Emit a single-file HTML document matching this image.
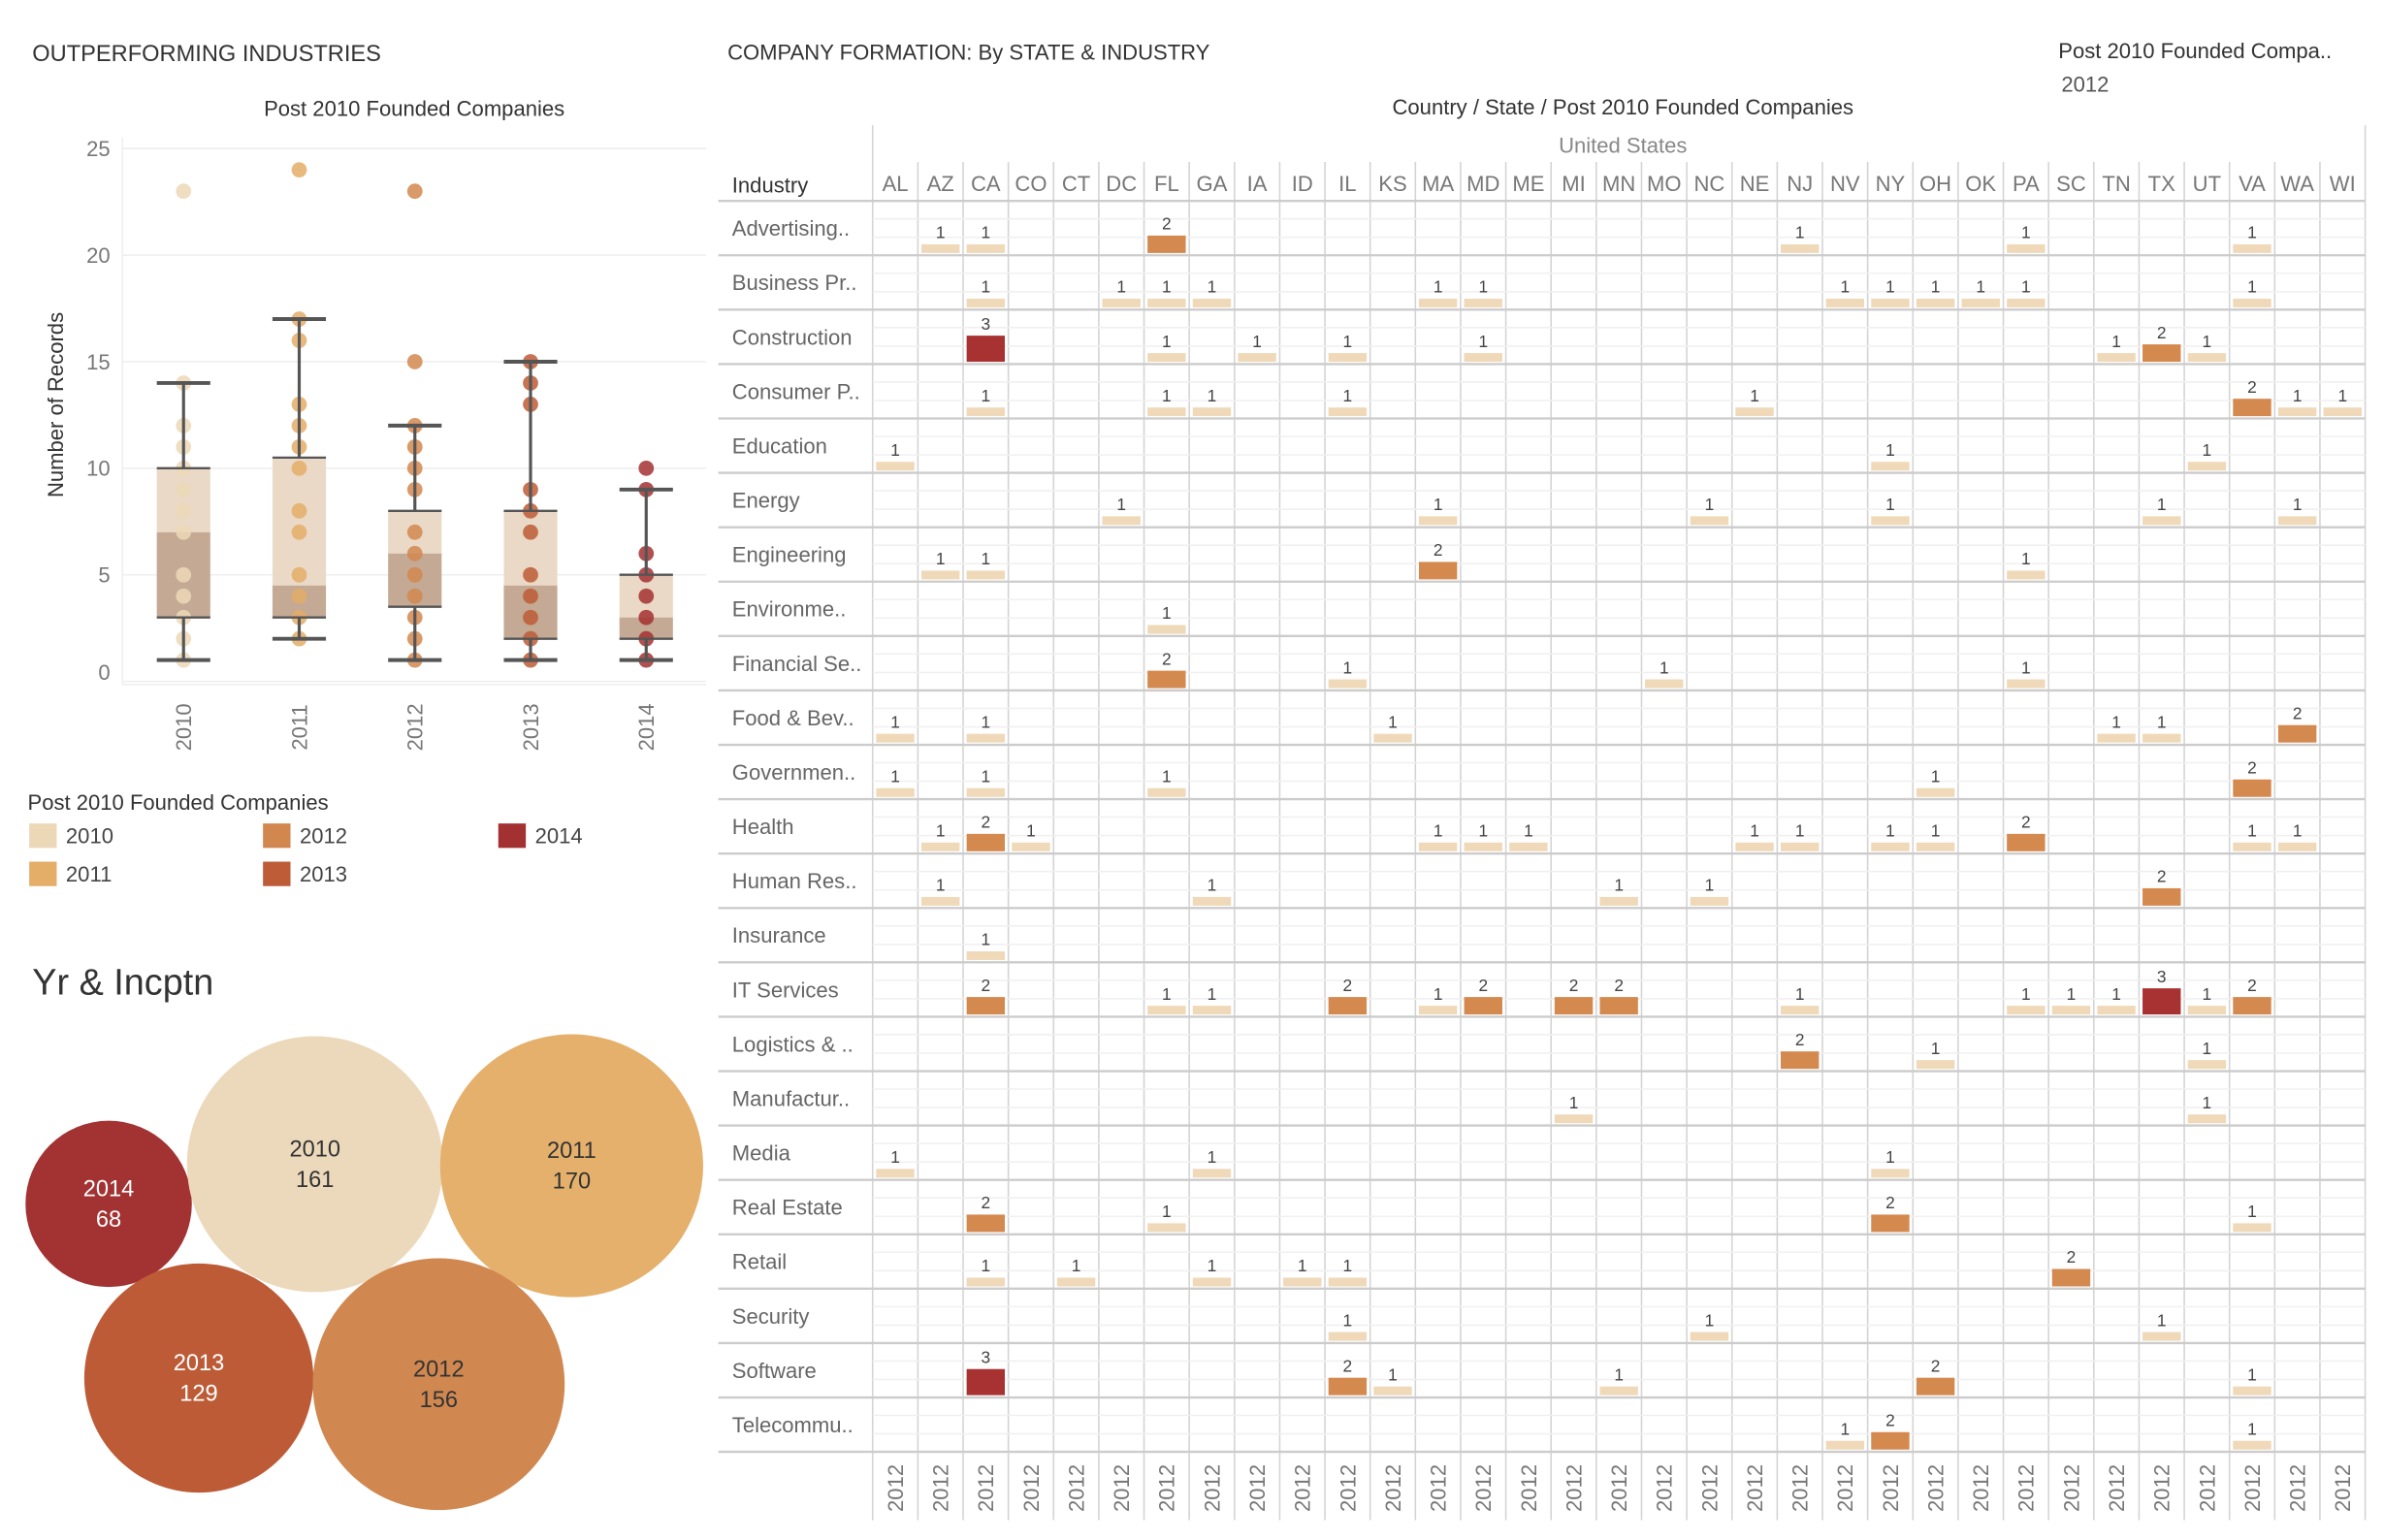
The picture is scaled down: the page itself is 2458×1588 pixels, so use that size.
<!DOCTYPE html>
<html><head><meta charset="utf-8"><style>
html,body{margin:0;padding:0;background:#fff;}
svg{display:block;font-family:"Liberation Sans",sans-serif;}
</style></head><body>
<svg id="s" width="2458" height="1588" viewBox="0 0 1560 1008" xmlns="http://www.w3.org/2000/svg">
<text x="21" y="40" font-size="15" fill="#333">OUTPERFORMING INDUSTRIES</text>
<text x="271" y="76" font-size="14" fill="#333" text-anchor="middle">Post 2010 Founded Companies</text>
<text transform="translate(41,265) rotate(-90)" font-size="14" fill="#333" text-anchor="middle">Number of Records</text>
<g id="box"></g>
<text x="18" y="530" font-size="14" fill="#333">Post 2010 Founded Companies</text>
<g id="legend"></g>
<text x="21" y="651" font-size="24" fill="#333">Yr &amp; Incptn</text>
<g id="bubbles"></g>
<text x="476" y="39" font-size="14" fill="#333">COMPANY FORMATION: By STATE &amp; INDUSTRY</text>
<text x="1347" y="38" font-size="14" fill="#333">Post 2010 Founded Compa..</text>
<text x="1349" y="60" font-size="14" fill="#555">2012</text>
<text x="1062" y="75" font-size="14" fill="#333" text-anchor="middle">Country / State / Post 2010 Founded Companies</text>
<text x="1062" y="100" font-size="14" fill="#888" text-anchor="middle">United States</text>
<text x="479" y="126" font-size="14" fill="#333">Industry</text>
<g id="heat"></g>
</svg>
<script>
const NS="http://www.w3.org/2000/svg";
function mk(tag,attrs,parent,txt){const e=document.createElementNS(NS,tag);for(const k in attrs)e.setAttribute(k,attrs[k]);if(txt!==undefined)e.textContent=txt;parent.appendChild(e);return e;}

// ---- Box plot data ----
const years=["2010","2011","2012","2013","2014"];
const yTicks=[0,5,10,15,20,25];
const whiskLow=[1,2,1,1,1];
const q1=[3,3,3.5,2,2];
const med=[7,4.5,6,4.5,3];
const q3=[10,10.5,8,8,5];
const whiskHigh=[14,17,12,15,9];
const pts2010=[23,14,12,11,10,9,8,7,5,4,3,2,1];
const pts2011=[24,17,16,13,12,11,10,8,7,5,4,3,2];
const pts2012=[23,15,12,11,10,9,7,6,5,4,3,2,1];
const pts2013=[15,14,13,9,8,7,5,4,3,2,1];
const pts2014=[10,9,6,5,4,3,2,1];
const yearColors=["#ecd8b7","#e4ad68","#d2874f","#bd5c36","#a33131"];

const box=document.getElementById('box');
const yS=v=>446-v*13.95;
const xS=i=>120+i*75.7;
yTicks.forEach(t=>{
  const l=mk('line',{x1:80,x2:462,y1:yS(t),y2:yS(t),stroke:"#eee","stroke-width":1},box);
  
  
  const tx=mk('text',{x:72,y:(t===0?yS(t)-6:yS(t))+5,"font-size":14,fill:"#777","text-anchor":"end"},box,String(t));
  
  
});
mk('line',{x1:80,x2:80,y1:90,y2:448,stroke:"#eee"},box);
mk('line',{x1:80,x2:462,y1:448,y2:448,stroke:"#eee"},box);
const allPts=[pts2010,pts2011,pts2012,pts2013,pts2014];
years.forEach((y,i)=>{
  const cx=xS(i),w=35;
  const up=mk('rect',{x:cx-w/2,y:yS(q3[i]),width:w,height:yS(med[i])-yS(q3[i]),fill:"#ead9c6"},box);
  
  
  const lo=mk('rect',{x:cx-w/2,y:yS(med[i]),width:w,height:yS(q1[i])-yS(med[i]),fill:"#c4a994"},box);
  
  
  allPts[i].forEach(v=>{
    const c=mk('circle',{cx:cx,cy:yS(v),r:5,fill:yearColors[i],opacity:0.85},box);
    
    
  });
  const st={stroke:"#555","stroke-width":2};
  mk('line',Object.assign({x1:cx,x2:cx,y1:yS(whiskHigh[i]),y2:yS(q3[i])},st),box);
  mk('line',Object.assign({x1:cx,x2:cx,y1:yS(q1[i]),y2:yS(whiskLow[i])},st),box);
  [whiskHigh[i],whiskLow[i],q3[i],q1[i]].forEach((v,k)=>{
    mk('line',Object.assign({x1:cx-w/2,x2:cx+w/2,y1:yS(v),y2:yS(v)},st,{"stroke-width":k<2?2.5:1.5}),box);
  });
  const t=mk('text',{transform:`translate(${cx+5},${476}) rotate(-90)`,"font-size":14,fill:"#777","text-anchor":"middle"},box,y);
  
  
});

// ---- Legend ----
const leg=document.getElementById('legend');
const legPos=[[19,539],[19,564],[172,539],[172,564],[326,539]];
years.forEach((y,i)=>{
  const [x,yy]=legPos[i];
  const r=mk('rect',{x:x,y:yy,width:18,height:16,fill:yearColors[i]},leg);
  
  
  const t=mk('text',{x:x+24,y:yy+13,"font-size":14,fill:"#444"},leg,y);
  
  
});

// ---- Bubbles ----
const bubbleYears=["2014","2010","2011","2013","2012"];
const bubbleCounts=[68,161,170,129,156];
const bubbleColors=["#a33232","#ecd9bb","#e5b06c","#bd5b37","#d08850"];
const bubbleText=["#fff","#333","#333","#fff","#333"];
const bubbleCenters=[[71,788],[206,762],[374,763],[130,902],[287,906]];
const bub=document.getElementById('bubbles');
bubbleYears.forEach((y,i)=>{
  const r=Math.sqrt(bubbleCounts[i])*6.6;
  const [cx,cy]=bubbleCenters[i];
  const c=mk('circle',{cx:cx,cy:cy,r:r,fill:bubbleColors[i]},bub);
  
  
  const t=mk('text',{x:cx,y:cy-5,"font-size":15,fill:bubbleText[i],"text-anchor":"middle"},bub,y);
  
  
  const t2=mk('text',{x:cx,y:cy+15,"font-size":15,fill:bubbleText[i],"text-anchor":"middle"},bub,String(bubbleCounts[i]));
  
  
});

// ---- Heatmap data ----
const states=["AL","AZ","CA","CO","CT","DC","FL","GA","IA","ID","IL","KS","MA","MD","ME","MI","MN","MO","NC","NE","NJ","NV","NY","OH","OK","PA","SC","TN","TX","UT","VA","WA","WI"];
const industries=["Advertising..","Business Pr..","Construction","Consumer P..","Education","Energy","Engineering","Environme..","Financial Se..","Food & Bev..","Governmen..","Health","Human Res..","Insurance","IT Services","Logistics & ..","Manufactur..","Media","Real Estate","Retail","Security","Software","Telecommu.."];
const cellStates=[
 ["AZ","CA","FL","NJ","PA","VA"],
 ["CA","DC","FL","GA","MA","MD","NV","NY","OH","OK","PA","VA"],
 ["CA","FL","IA","IL","MD","TN","TX","UT"],
 ["CA","FL","GA","IL","NE","VA","WA","WI"],
 ["AL","NY","UT"],
 ["DC","MA","NC","NY","TX","WA"],
 ["AZ","CA","MA","PA"],
 ["FL"],
 ["FL","IL","MO","PA"],
 ["AL","CA","KS","TN","TX","WA"],
 ["AL","CA","FL","OH","VA"],
 ["AZ","CA","CO","MA","MD","ME","NE","NJ","NY","OH","PA","VA","WA"],
 ["AZ","GA","MN","NC","TX"],
 ["CA"],
 ["CA","FL","GA","IL","MA","MD","MI","MN","NJ","PA","SC","TN","TX","UT","VA"],
 ["NJ","OH","UT"],
 ["MI","UT"],
 ["AL","GA","NY"],
 ["CA","FL","NY","VA"],
 ["CA","CT","GA","ID","IL","SC"],
 ["IL","NC","TX"],
 ["CA","IL","KS","MN","OH","VA"],
 ["NV","NY","VA"]
];
const cellValues=[
 [1,1,2,1,1,1],
 [1,1,1,1,1,1,1,1,1,1,1,1],
 [3,1,1,1,1,1,2,1],
 [1,1,1,1,1,2,1,1],
 [1,1,1],
 [1,1,1,1,1,1],
 [1,1,2,1],
 [1],
 [2,1,1,1],
 [1,1,1,1,1,2],
 [1,1,1,1,2],
 [1,2,1,1,1,1,1,1,1,1,2,1,1],
 [1,1,1,1,2],
 [1],
 [2,1,1,2,1,2,2,2,1,1,1,1,3,1,2],
 [2,1,1],
 [1,1],
 [1,1,1],
 [2,1,2,1],
 [1,1,1,1,1,2],
 [1,1,1],
 [3,2,1,1,2,1],
 [1,2,1]
];
const valColors={1:"#efd9b9",2:"#d4894f",3:"#a83232"};

const heat=document.getElementById('heat');
const X0=571,CW=29.6,Y0=131.5,RH=35.6;
const cx=i=>X0+CW*(i+0.5);
const rowTop=r=>Y0+RH*r;
for(let i=0;i<=states.length;i++){
  const l=mk('line',{x1:X0+CW*i,x2:X0+CW*i,y1:i===0||i===states.length?82:106,y2:995,stroke:"#d4d4d4","stroke-width":1},heat);
  
  
}
mk('line',{x1:470,x2:X0+CW*states.length,y1:Y0,y2:Y0,stroke:"#ccc","stroke-width":1.5},heat);
states.forEach((s,i)=>{
  const t=mk('text',{x:cx(i),y:125,"font-size":14,fill:"#777","text-anchor":"middle"},heat,s);
  
  
  const b=mk('text',{transform:`translate(${cx(i)+5},974) rotate(-90)`,"font-size":14,fill:"#777","text-anchor":"middle"},heat,"2012");
  
  
});
industries.forEach((ind,r)=>{
  const top=rowTop(r),bot=rowTop(r+1);
  mk('line',{x1:X0,x2:X0+CW*states.length,y1:top+RH*0.33,y2:top+RH*0.33,stroke:"#f0f0f0"},heat);
  mk('line',{x1:X0,x2:X0+CW*states.length,y1:top+RH*0.67,y2:top+RH*0.67,stroke:"#f0f0f0"},heat);
  const sep=mk('line',{x1:470,x2:X0+CW*states.length,y1:bot,y2:bot,stroke:"#ccc","stroke-width":1.5},heat);
  
  
  const t=mk('text',{x:479,y:top+RH/2+5,"font-size":14,fill:"#666"},heat,ind);
  
  
  cellStates[r].forEach((s,k)=>{
    const v=cellValues[r][k];
    const i=states.indexOf(s);
    const h=v*5.7;
    const base=bot-1.5;
    const rc=mk('rect',{x:cx(i)-12.5,y:base-h,width:25,height:h,fill:valColors[v]||"#a83232"},heat);
    
    
    const lt=mk('text',{x:cx(i),y:base-h-4,"font-size":11,fill:"#444","text-anchor":"middle"},heat,String(v));
    
    
  });
});
</script>
</body></html>
